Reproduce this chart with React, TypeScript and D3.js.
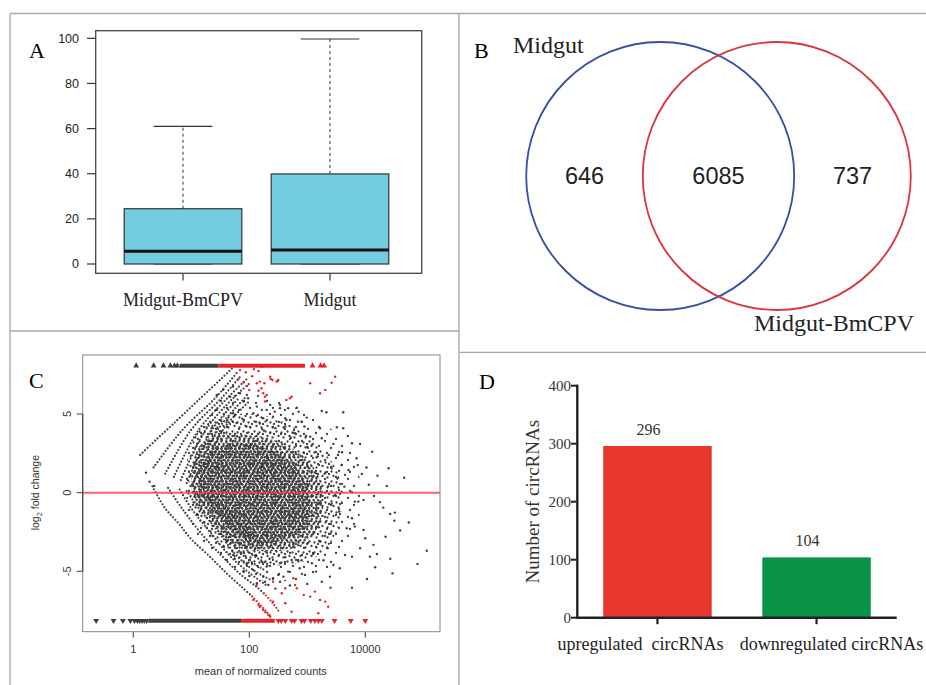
import React from 'react';
import * as d3 from 'd3';

const serif = '"Liberation Serif", "Times New Roman", serif';
const sans = '"Liberation Sans", Arial, Helvetica, sans-serif';

// A: boxplot of circRNA expression
const boxGroups = ['Midgut-BmCPV', 'Midgut'];
const boxLower = [0, 0];
const boxQ1 = [0, 0];
const boxMedian = [5.6, 6.2];
const boxQ3 = [24.5, 39.9];
const boxUpper = [61, 99.7];
const boxTicks = [0, 20, 40, 60, 80, 100];

// B: venn
const vennSets = ['Midgut', 'Midgut-BmCPV'];
const vennCounts = [646, 6085, 737];

// C: MA plot, points are [log10(mean count), log2 fold change]
const maTicksX = [1, 100, 10000];
const maTicksY = [-5, 0, 5];
const maGray: [number, number][] = [
  [4.21, 1.08], [4.67, 0.95], [4.37, 0.43], [4.15, -0.21], [4.31, -0.95], [4.43, -1.35], [4.51, -1.27], [4.5, -1.78],
  [5.06, -3.69], [4.9, -4.53], [4.43, -4.2], [4.47, -5.13], [4.17, -4.74], [4.03, -5.49], [3.77, -6.04], [3.4, -6.04],
  [3.91, 3.1], [3.77, 3.14], [3.6, 2.57], [3.85, 2.19], [3.87, 1.76], [3.94, 1.19], [3.51, 4.16], [3.62, 5.11],
  [3.33, 5.11], [3.25, 5.19], [2.82, 5.4], [2.99, 4.77], [2.95, 4.2], [3.09, 3.08], [3.37, 2.4], [3.59, 1.76],
  [3.71, 1.44], [3.48, -0.15], [3.77, 0.03], [3.82, -0.57], [3.97, -0.46], [3.77, -1.63], [3.68, -2.26], [3.82, -2.16],
  [3.97, -2.37], [4.0, -2.9], [4.14, -3.32], [3.91, -3.53], [3.65, -3.96], [3.45, -4.6], [3.77, -4.07], [4.08, -4.07],
  [3.56, -4.81], [3.35, -3.53], [3.15, -5.02], [3.39, -5.34], [3.25, -5.66], [2.96, -5.23], [2.84, -4.28], [2.67, -5.02],
  [2.5, -5.23], [2.33, -5.87], [2.53, -5.66], [3.59, 0.06], [3.64, 0.38], [3.88, -0.57], [3.25, 3.46], [3.22, 4.09],
  [3.05, 3.56], [2.79, 3.78], [2.84, 4.51], [2.62, 4.73], [2.67, 5.37], [2.44, 5.15], [2.53, 5.37], [2.36, 5.58],
  [3.65, 1.13], [3.42, 1.55], [3.53, 2.4], [3.62, 4.09], [4.06, 0.5], [4.25, -0.6], [4.6, -2.4], [4.35, -2.8],
  [4.02, 1.6], [4.12, 2.6], [3.7, 3.6], [4.4, 1.55], [4.75, -1.9], [4.2, -3.9],
  [1.44, 5.26], [1.72, 5.05], [1.9, 5.79], [2.13, 5.47], [2.3, 5.26], [2.41, 4.83], [2.64, 4.62], [2.77, 3.99],
  [1.67, 6.1], [1.84, 6.32], [1.44, 6.21], [1.55, 6.53], [1.72, 6.74], [1.98, 6.0], [2.07, 5.05], [2.24, 4.73],
  [2.53, 5.58], [2.62, 4.2], [2.85, 5.15], [2.9, 4.51], [1.78, 4.43], [1.95, 4.2],
  [1.96, -4.49], [2.07, -4.91], [2.24, -5.34], [2.41, -5.44], [2.59, -5.34], [2.3, -4.7], [2.53, -4.49], [2.73, -4.28],
  [2.87, -4.81], [3.08, -4.49], [2.13, -5.76], [2.27, -5.66], [2.0, -5.3], [2.7, -5.9], [3.0, -5.8], [2.45, -6.1],
  [1.9, -5.0], [0.22, 1.27], [0.28, 0.7], [0.36, 0.43],
  // cloud fringe
  [1.35, 4.1], [1.62, 4.6], [1.88, 4.7], [2.18, 4.4], [2.45, 4.1], [2.72, 3.5], [3.0, 2.9], [3.18, 2.3],
  [3.3, 1.2], [3.36, 0.4], [3.42, -0.7], [3.33, -1.8], [3.4, -2.6], [3.22, -3.1], [3.1, -3.9], [2.9, -4.3],
  [2.62, -4.1], [2.35, -4.2], [2.1, -4.0], [1.85, -3.8], [1.6, -3.0], [1.75, -4.2], [3.52, 0.9], [3.28, -4.3],
  [3.45, 3.1], [2.25, 3.95], [1.5, 3.9], [2.98, 3.6], [3.55, -1.2], [3.2, -2.2],
];
const maRed: [number, number][] = [
  [1.81, 7.21], [1.94, 7.65], [2.08, 7.85], [1.96, 6.78], [2.0, 6.53], [2.13, 6.95], [2.16, 6.48], [2.24, 6.32],
  [2.27, 6.1], [2.36, 7.37], [2.4, 7.16], [2.47, 7.06], [2.5, 7.16], [2.64, 5.89], [2.73, 6.1], [3.05, 6.95],
  [3.22, 6.32], [3.31, 6.53], [3.42, 6.99], [3.48, 7.37], [2.21, 8.0], [1.84, 7.8], [2.27, 5.79], [2.16, 7.74],
  [2.37, 7.23], [2.49, 7.1], [2.7, 6.0], [2.21, 6.64], [2.3, 6.21], [2.18, 7.06], [2.26, 6.95], [2.05, 7.4], [1.9, 7.0],
  [2.13, -5.87], [2.18, -7.25], [2.24, -7.46], [2.33, -7.78], [2.41, -6.93], [2.62, -7.03], [2.79, -5.87], [2.82, -6.08],
  [3.05, -6.61], [3.22, -6.82], [3.31, -6.93], [3.36, -7.25], [3.13, -6.29], [2.73, -7.57], [3.19, -7.67], [2.41, -5.66],
  [2.94, -6.5], [2.56, -6.4], [2.62, -6.08], [2.76, -5.44], [2.07, -6.82], [2.16, -7.14], [2.36, -7.88], [2.28, -7.6],
];
// dotted arcs from genes with zero counts in one group
const maUpperArcs: [number, number][][] = [
  [[0.12, 2.4], [0.39, 3.35], [0.67, 4.3], [1.1, 5.8], [1.62, 7.6], [1.7, 7.9]],
  [[0.35, 1.6], [0.85, 4.0], [1.41, 6.0], [1.78, 7.6]],
  [[0.55, 1.2], [1.0, 4.0], [1.52, 6.0], [1.85, 7.4]],
  [[0.7, 1.0], [1.13, 4.0], [1.62, 6.0], [1.95, 7.2]],
  [[0.82, 0.8], [1.25, 4.0], [1.72, 6.0], [2.02, 7.0]],
  [[0.92, 0.6], [1.36, 4.0], [1.82, 6.0]],
  [[1.02, 0.5], [1.46, 4.0], [1.92, 6.0]],
  [[1.12, 0.4], [1.55, 4.0], [2.0, 5.8]],
];
const maLowerArcs: [number, number][][] = [
  [[0.33, 0.4], [0.55, -1.0], [0.78, -1.95], [1.01, -3.0], [1.3, -4.0], [1.6, -5.1], [1.87, -6.0], [2.05, -6.6]],
  [[0.6, 0.3], [0.84, -1.0], [1.15, -2.5], [1.52, -4.0], [1.85, -5.2], [2.13, -6.0], [2.25, -6.4]],
  [[0.8, 0.2], [1.0, -1.0], [1.3, -2.4], [1.66, -4.0], [2.0, -5.1], [2.3, -5.9]],
  [[0.92, 0.1], [1.13, -1.0], [1.45, -2.4], [1.78, -4.0], [2.1, -5.0], [2.4, -5.6]],
  [[1.05, 0.1], [1.27, -1.0], [1.55, -2.3], [1.9, -4.0], [2.25, -4.9]],
  [[1.15, 0], [1.38, -1.0], [1.65, -2.2], [2.0, -3.8], [2.35, -4.6]],
  [[1.25, 0], [1.48, -1.0], [1.75, -2.2], [2.1, -3.6]],
  [[1.35, 0], [1.58, -0.9], [1.85, -2.1], [2.2, -3.4]],
];
const maRedArcs: [number, number][][] = [
  [[2.05, -6.6], [2.2, -7.2], [2.38, -7.9]],
  [[2.25, -6.4], [2.4, -7.0], [2.5, -7.5]],
];
// outline of the crowded cloud, four density levels
const maZoneSparse: [number, number][] = [
  [1.0, 3.5], [1.4, 5.8], [2.0, 6.3], [2.6, 5.7], [3.2, 4.6], [3.7, 3.0], [3.9, 1.0], [3.9, -1.5],
  [3.7, -3.5], [3.3, -5.0], [2.7, -5.6], [2.0, -5.4], [1.5, -4.2], [1.0, -2.0],
];
const maZoneMedium: [number, number][] = [
  [0.95, 1.5], [1.1, 3.8], [1.5, 4.8], [2.0, 5.0], [2.6, 4.5], [3.1, 3.2], [3.5, 1.5], [3.6, -0.5],
  [3.5, -2.5], [3.2, -4.0], [2.6, -4.6], [1.9, -4.5], [1.45, -3.2], [1.05, -1.2],
];
const maZoneDense: [number, number][] = [
  [1.0, 1.0], [1.15, 3.0], [1.5, 3.7], [2.1, 3.6], [2.6, 3.1], [3.0, 2.1], [3.25, 0.5], [3.25, -1.5],
  [3.05, -2.9], [2.7, -3.6], [2.1, -3.7], [1.7, -3.3], [1.35, -1.8], [1.05, -0.5],
];
const maZoneCore: [number, number][] = [
  [1.15, 1.0], [1.35, 2.6], [1.7, 3.1], [2.15, 3.0], [2.55, 2.4], [2.9, 1.2], [3.05, -0.6], [2.95, -2.2],
  [2.6, -3.0], [2.15, -3.2], [1.8, -2.7], [1.5, -1.5], [1.2, -0.2],
];
// genes beyond the y range, drawn as triangles at the edge
const maTopGray = [0.05, 0.35, 0.52, 0.64, 0.71, 0.76];
const maTopGrayRun = [0.8, 1.47];
const maTopRedRun = [1.47, 2.96];
const maTopRed = [3.09, 3.23, 3.29];
const maBotGray = [-0.64, -0.34, -0.18, -0.05, 0.02, 0.07, 0.11, 0.15, 0.19, 0.23];
const maBotGrayRun = [0.26, 1.87];
const maBotRedRun = [1.87, 2.44];
const maBotRed = [2.5, 2.55, 2.62, 2.73, 2.78, 2.9, 2.95, 3.06, 3.13, 3.19, 3.25, 3.47, 3.75, 4.0];

// D: differential circRNAs
const diffCategories = ['upregulated  circRNAs', 'downregulated circRNAs'];
const diffCounts = [296, 104];
const diffColors = ['#e8352e', '#0a9447'];
const diffTicks = [0, 100, 200, 300, 400];

function PanelA() {
  const x = d3.scaleLinear().domain([0.406, 2.624]).range([95.7, 421.7]);
  const y = d3.scaleLinear().domain([0, 100]).range([264, 38.3]);
  return (
    <g>
      <text x={29} y={58} fontFamily={serif} fontSize={22}>A</text>
      {boxGroups.map((g, i) => {
        const cx = x(i + 1);
        const b0 = x(i + 0.6), b1 = x(i + 1.4);
        const c0 = x(i + 0.8), c1 = x(i + 1.2);
        return (
          <g key={g}>
            <line x1={cx} x2={cx} y1={y(boxQ3[i])} y2={y(boxUpper[i])} stroke="#333" strokeDasharray="3,3" />
            <line x1={c0} x2={c1} y1={y(boxUpper[i])} y2={y(boxUpper[i])} stroke="#333" strokeWidth={1.2} />
            <line x1={c0} x2={c1} y1={y(boxLower[i])} y2={y(boxLower[i])} stroke="#333" strokeWidth={1.2} />
            <rect x={b0} width={b1 - b0} y={y(boxQ3[i])} height={y(boxQ1[i]) - y(boxQ3[i])}
              fill="#72cde0" stroke="#333" strokeWidth={1.2} />
            <line x1={b0} x2={b1} y1={y(boxMedian[i])} y2={y(boxMedian[i])} stroke="#111" strokeWidth={3} />
            <line x1={cx} x2={cx} y1={273.3} y2={280.5} stroke="#333" strokeWidth={1.2} />
            <text x={cx} y={306} textAnchor="middle" fontFamily={serif} fontSize={18} fill="#222">{g}</text>
          </g>
        );
      })}
      <rect x={95.7} y={30.7} width={326} height={242.6} fill="none" stroke="#444" strokeWidth={1.3} />
      {boxTicks.map(t => (
        <g key={t}>
          <line x1={87} x2={95.7} y1={y(t)} y2={y(t)} stroke="#333" strokeWidth={1.2} />
          <text x={79} y={y(t)} dy="0.35em" textAnchor="end" fontFamily={sans} fontSize={12.5} fill="#222">{t}</text>
        </g>
      ))}
    </g>
  );
}

function PanelB() {
  const x = d3.scaleLinear().domain([-1, 1]).range([584.5, 852.5]);
  const r = x(1) - x(0);
  const cy = 176;
  const centers = [-0.435, 0.435];
  const colors = ['#3b4ea3', '#d8373f'];
  return (
    <g>
      <text x={474} y={58} fontFamily={serif} fontSize={22}>B</text>
      {centers.map((c, i) => (
        <circle key={i} cx={x(c)} cy={cy} r={r} fill="none" stroke={colors[i]} strokeWidth={1.8} />
      ))}
      {vennCounts.map((v, i) => (
        <text key={i} x={x(i - 1)} y={cy} dy="0.36em" textAnchor="middle" fontFamily={sans} fontSize={23.5} fill="#222">{v}</text>
      ))}
      <text x={513} y={53} fontFamily={serif} fontSize={24} fill="#222">{vennSets[0]}</text>
      <text x={754} y={331} fontFamily={serif} fontSize={24} fill="#222">{vennSets[1]}</text>
    </g>
  );
}

function PanelC() {
  const box = { l: 82.7, r: 440, t: 355, b: 631.7 };
  const x = d3.scaleLog().domain([10 ** -0.872, 10 ** 5.288]).range([box.l, box.r]);
  const y = d3.scaleLinear().domain([-8.84, 8.75]).range([box.b, box.t]);
  const px = (lx: number) => x(10 ** lx);
  const curve = d3.line<[number, number]>().x(d => px(d[0])).y(d => y(d[1])).curve(d3.curveCatmullRom.alpha(0.5));
  const zone = d3.line<[number, number]>().x(d => px(d[0])).y(d => y(d[1])).curve(d3.curveCatmullRomClosed.alpha(0.5));
  const tri = d3.symbol(d3.symbolTriangle, 15)() || '';
  const gray = '#3e3e3e';
  const red = '#e3242b';
  const yTop = y(8.07), yBot = y(-8.14);
  const dots = (pts: number[][], r: number) => pts.map(([a, b], i) => <circle key={i} cx={a} cy={b} r={r} fill={gray} />);
  return (
    <g>
      <defs>
        <clipPath id="maclip"><rect x={box.l} y={box.t} width={box.r - box.l} height={box.b - box.t} /></clipPath>
        <pattern id="pSparse" width={23} height={19} patternUnits="userSpaceOnUse">
          {dots([[3, 4], [14, 2], [9, 11], [20, 9], [5, 16], [17, 15]], 1.15)}
        </pattern>
        <pattern id="pMedium" width={11} height={10} patternUnits="userSpaceOnUse">
          {dots([[1.5, 1.5], [6.5, 2.5], [3.5, 6], [8.5, 7.5], [10, 4]], 1.15)}
        </pattern>
        <pattern id="pDense" width={9} height={8} patternUnits="userSpaceOnUse">
          {dots([[1.2, 1.2], [5.5, 0.8], [3.2, 4.2], [7.6, 4], [1.5, 6.6], [5.8, 7]], 1.2)}
        </pattern>
        <pattern id="pCore" width={7} height={6} patternUnits="userSpaceOnUse">
          {dots([[2.3, 1.8], [5.8, 1.2], [1, 4.4], [4.4, 4.6]], 1.2)}
        </pattern>
      </defs>
      <text x={29} y={388} fontFamily={serif} fontSize={22}>C</text>
      <g clipPath="url(#maclip)">
        <path d={zone(maZoneSparse) || ''} fill="url(#pSparse)" />
        <path d={zone(maZoneMedium) || ''} fill="url(#pMedium)" />
        <path d={zone(maZoneDense) || ''} fill="url(#pDense)" />
        <path d={zone(maZoneCore) || ''} fill="url(#pCore)" />
        {maUpperArcs.concat(maLowerArcs).map((a, i) => (
          <path key={i} d={curve(a) || ''} fill="none" stroke={gray} strokeWidth={2.2} strokeLinecap="round" strokeDasharray="0 3.4" />
        ))}
        {maRedArcs.map((a, i) => (
          <path key={i} d={curve(a) || ''} fill="none" stroke={red} strokeWidth={2.2} strokeLinecap="round" strokeDasharray="0 3.2" />
        ))}
        {maGray.map((d, i) => <circle key={i} cx={px(d[0])} cy={y(d[1])} r={1.2} fill={gray} />)}
        {maRed.map((d, i) => <circle key={i} cx={px(d[0])} cy={y(d[1])} r={1.2} fill={red} />)}
        <line x1={box.l} x2={box.r} y1={y(0)} y2={y(0)} stroke="#f03c46" strokeOpacity={0.8} strokeWidth={2} />
        <line x1={px(maTopGrayRun[0])} x2={px(maTopGrayRun[1])} y1={yTop} y2={yTop} stroke={gray} strokeWidth={4} />
        <line x1={px(maTopRedRun[0])} x2={px(maTopRedRun[1])} y1={yTop} y2={yTop} stroke={red} strokeWidth={4} />
        <line x1={px(maBotGrayRun[0])} x2={px(maBotGrayRun[1])} y1={yBot} y2={yBot} stroke={gray} strokeWidth={4} />
        <line x1={px(maBotRedRun[0])} x2={px(maBotRedRun[1])} y1={yBot} y2={yBot} stroke={red} strokeWidth={4} />
        {maTopGray.map((v, i) => <path key={'tg' + i} d={tri} transform={`translate(${px(v)},${yTop})`} fill={gray} />)}
        {maTopRed.map((v, i) => <path key={'tr' + i} d={tri} transform={`translate(${px(v)},${yTop})`} fill={red} />)}
        {maBotGray.map((v, i) => <path key={'bg' + i} d={tri} transform={`translate(${px(v)},${yBot}) rotate(180)`} fill={gray} />)}
        {maBotRed.map((v, i) => <path key={'br' + i} d={tri} transform={`translate(${px(v)},${yBot}) rotate(180)`} fill={red} />)}
      </g>
      <rect x={box.l} y={box.t} width={box.r - box.l} height={box.b - box.t} fill="none" stroke="#888" strokeWidth={1} />
      <line x1={box.l} x2={box.l} y1={y(5)} y2={y(-5)} stroke="#444" strokeWidth={1.2} />
      {maTicksY.map(t => (
        <g key={t}>
          <line x1={box.l - 6} x2={box.l} y1={y(t)} y2={y(t)} stroke="#444" />
          <text transform={`translate(${box.l - 16},${y(t)}) rotate(-90)`} textAnchor="middle" dy="0.35em"
            fontFamily={sans} fontSize={11} fill="#333">{t}</text>
        </g>
      ))}
      {maTicksX.map(t => (
        <g key={t}>
          <line x1={x(t)} x2={x(t)} y1={box.b} y2={box.b + 6} stroke="#444" />
          <text x={x(t)} y={box.b + 17} dy="0.35em" textAnchor="middle" fontFamily={sans} fontSize={11} fill="#333">{t}</text>
        </g>
      ))}
      <text x={(box.l + box.r) / 2 - 0.5} y={675} textAnchor="middle" fontFamily={sans} fontSize={11} fill="#333">mean of normalized counts</text>
      <text transform={`translate(39,${y(0)}) rotate(-90)`} textAnchor="middle" fontFamily={sans} fontSize={10.5} fill="#333">
        log<tspan fontSize={7.5} dy="2.5">2</tspan><tspan dy="-2.5"> fold change</tspan>
      </text>
    </g>
  );
}

function PanelD() {
  const x = d3.scaleBand().domain(diffCategories).range([577.3, 896.7]).paddingInner(0.318).paddingOuter(0.163);
  const y = d3.scaleLinear().domain([0, 400]).range([617.7, 385.7]);
  const labelShift = [-17, 15];
  return (
    <g>
      <text x={479} y={389} fontFamily={serif} fontSize={22}>D</text>
      {diffCategories.map((c, i) => {
        const bx = x(c) || 0;
        const cx = bx + x.bandwidth() / 2;
        return (
          <g key={c}>
            <rect x={bx} width={x.bandwidth()} y={y(diffCounts[i])} height={y(0) - y(diffCounts[i])} fill={diffColors[i]} />
            <text x={cx - 9} y={y(diffCounts[i]) - 11} textAnchor="middle" fontFamily={serif} fontSize={16} fill="#333">{diffCounts[i]}</text>
            <line x1={cx} x2={cx} y1={y(0)} y2={y(0) + 6.5} stroke="#222" strokeWidth={2.2} />
            <text x={cx + labelShift[i]} y={650} textAnchor="middle" fontFamily={serif} fontSize={18} fill="#222"
              style={{ whiteSpace: 'pre' }}>{c}</text>
          </g>
        );
      })}
      <line x1={577.3} x2={896.7} y1={y(0)} y2={y(0)} stroke="#222" strokeWidth={2.4} />
      <line x1={577.3} x2={577.3} y1={y(400) - 1} y2={y(0) + 1.2} stroke="#222" strokeWidth={2.4} />
      {diffTicks.map(t => (
        <g key={t}>
          <line x1={571} x2={577.3} y1={y(t)} y2={y(t)} stroke="#222" strokeWidth={2} />
          <text x={571} y={y(t)} dy="0.35em" textAnchor="end" fontFamily={serif} fontSize={15} fill="#333">{t}</text>
        </g>
      ))}
      <text transform="translate(532,501.7) rotate(-90)" textAnchor="middle" dy="0.35em" fontFamily={serif} fontSize={19} fill="#333">Number of circRNAs</text>
    </g>
  );
}

export default function App() {
  const frame = '#a6a6a6';
  return (
    <svg width={926} height={685} style={{ position: 'absolute', left: 0, top: 0, background: '#fff' }}>
      <rect width={926} height={685} fill="#fff" />
      <g stroke={frame} strokeWidth={1.3}>
        <line x1={10} x2={926} y1={13.5} y2={13.5} />
        <line x1={10} x2={10} y1={13.5} y2={685} />
        <line x1={459} x2={459} y1={13.5} y2={685} />
        <line x1={10} x2={459} y1={331} y2={331} />
        <line x1={459} x2={926} y1={352.3} y2={352.3} />
      </g>
      <PanelA />
      <PanelB />
      <PanelC />
      <PanelD />
    </svg>
  );
}
